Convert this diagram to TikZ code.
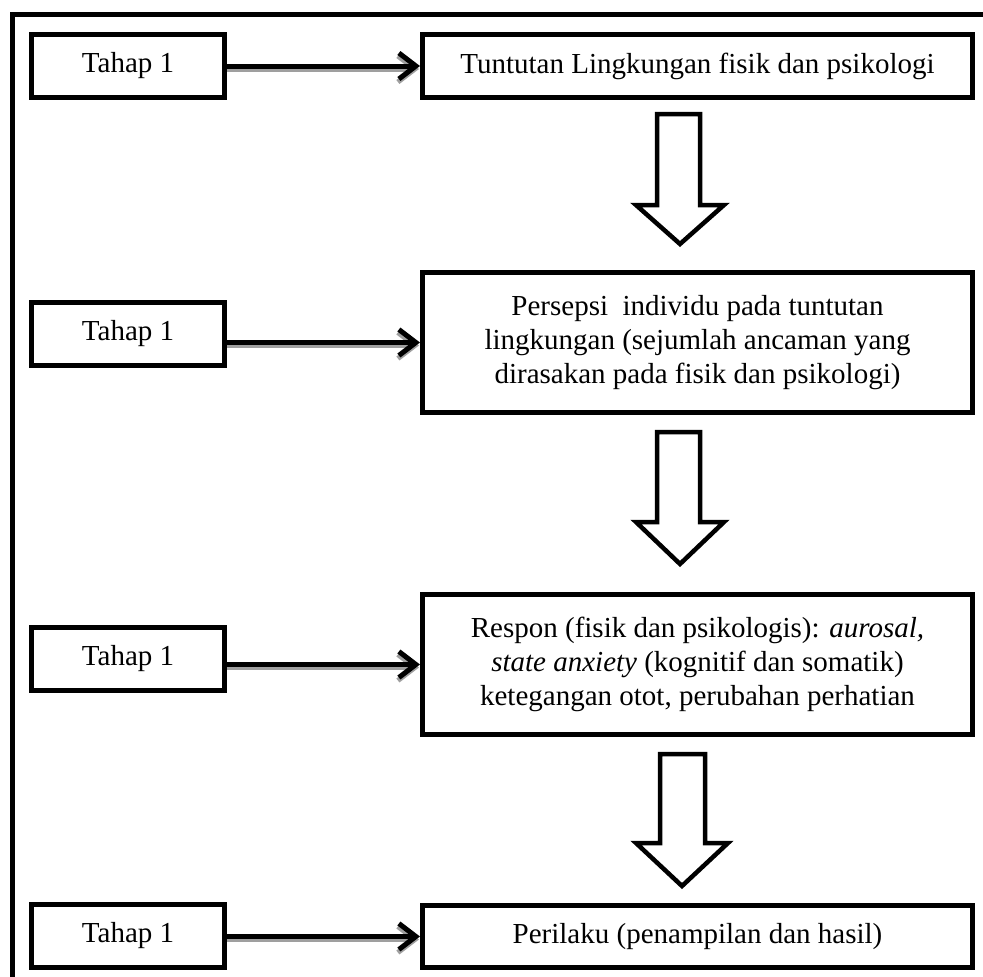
\documentclass[tikz,border=0pt]{standalone}
\usepackage{fontspec}
\setmainfont{Liberation Serif}
\usetikzlibrary{arrows.meta}
\tikzset{
  stagebox/.style={draw=black, line width=5pt, fill=white, minimum width=193pt, minimum height=63pt, inner sep=0pt, font=\fontsize{29}{34}\selectfont},
  mainbox/.style={draw=black, line width=5pt, fill=white, minimum width=550pt, inner sep=0pt, align=center, font=\fontsize{29}{34}\selectfont},
  linkarrow/.style={line width=5pt, -{Straight Barb[length=17pt, width=26pt, line width=5pt]}},
  linkshadow/.style={line width=5pt, draw=gray!75, -{Straight Barb[length=17pt, width=26pt, line width=5pt]}},
  hollowarrow/.style={draw=black, line width=4.5pt, fill=white, line join=miter},
  frameline/.style={line width=5pt, draw=black}
}
\begin{document}
\begin{tikzpicture}[x=1pt,y=-1pt]
\clip (0,0) rectangle (983,977);
\fill[white] (0,0) rectangle (983,977);
% outer frame (left and top edges visible)
\coordinate (fbl) at (12.5,990);
\coordinate (ftl) at (12.5,14.5);
\coordinate (ftr) at (995,14.5);
\draw[frameline] (fbl) -- (ftl) -- (ftr);

% stage boxes
\node[stagebox] (t1) at (128,66) {Tahap 1};
\node[stagebox] (t2) at (128,334) {Tahap 1};
\node[stagebox] (t3) at (128,659) {Tahap 1};
\node[stagebox] (t4) at (128,936) {Tahap 1};

% main boxes
\node[mainbox, minimum height=63pt] (r1) at (697.5,66) {Tuntutan Lingkungan fisik dan psikologi};
\node[mainbox, minimum height=140pt] (r2) at (697.5,342.5) {Persepsi\ \ individu pada tuntutan\\lingkungan (sejumlah ancaman yang\\dirasakan pada fisik dan psikologi)};
\node[mainbox, minimum height=140pt] (r3) at (697.5,664.5) {Respon (fisik dan psikologis): \textit{aurosal,}\\\textit{state anxiety} (kognitif dan somatik)\\ketegangan otot, perubahan perhatian};
\node[mainbox, minimum height=62pt] (r4) at (697.5,936.5) {Perilaku (penampilan dan hasil)};

% horizontal arrows with shadow
\foreach \i in {1,2,3,4}{
  \draw[linkshadow] ([shift={(0,3)}]t\i.east |- r\i.west) -- ([shift={(-1,3)}]r\i.west);
  \draw[linkarrow] (t\i.east |- r\i.west) -- (r\i.west);
}

% hollow block arrows
\draw[hollowarrow] (657,114) -- (700,114) -- (700,205) -- (724,205) -- (680,244) -- (636,205) -- (657,205) -- cycle;
\draw[hollowarrow] (657,432) -- (700,432) -- (700,522) -- (724,522) -- (680,564) -- (636,522) -- (657,522) -- cycle;
\draw[hollowarrow] (660,754) -- (705,754) -- (705,843) -- (728,843) -- (682,886) -- (636,843) -- (660,843) -- cycle;
\end{tikzpicture}
\end{document}
